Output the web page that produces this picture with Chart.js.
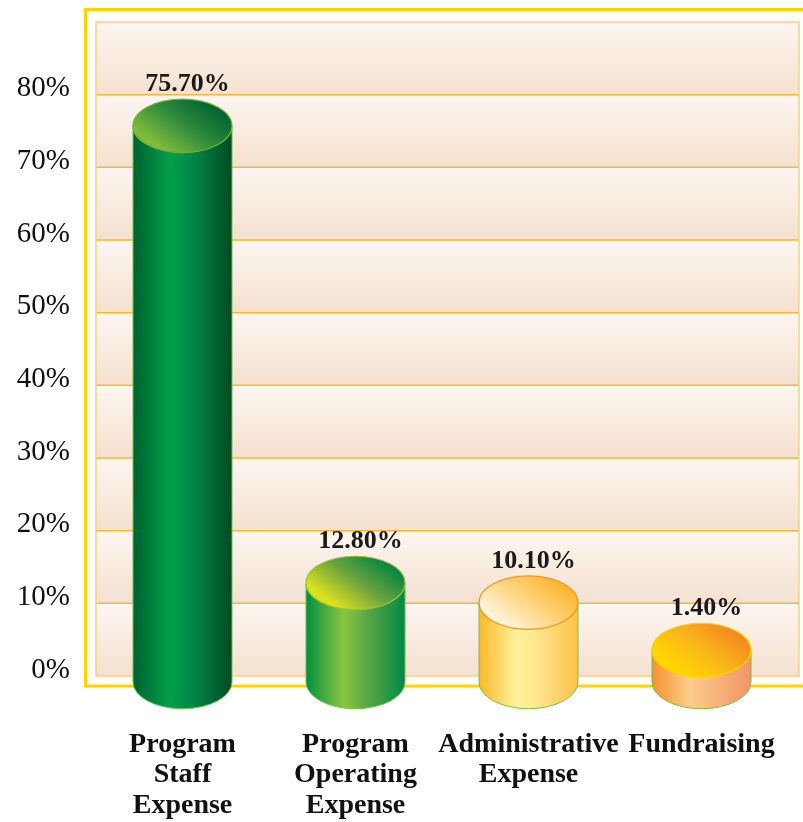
<!DOCTYPE html>
<html>
<head>
<meta charset="utf-8">
<script src="https://cdn.jsdelivr.net/npm/chart.js@4"></script>
<style>
  html, body { margin: 0; padding: 0; background: #fff; }
  canvas { display: block; }
</style>
</head>
<body>
<canvas id="chart" width="803" height="822"></canvas>
<script>
// data
const categories = [
    ['Program', 'Staff', 'Expense'],
    ['Program', 'Operating', 'Expense'],
    ['Administrative', 'Expense'],
    ['Fundraising']
];
const shares = [75.7, 12.8, 10.1, 1.4];
const yTicks = [0, 10, 20, 30, 40, 50, 60, 70, 80];

// cylinder colours: body stops left->right, top stops, outline of top
const bodyStops = [
    ['#00612f', '#00a04c', '#008546', '#004a22'],
    ['#00903f', '#8cc63f', '#5aa645', '#008a45'],
    ['#fdb827', '#fff39c', '#fee38a', '#fcc24a'],
    ['#f6922c', '#fdcd8a', '#f8b77c', '#f29466']
];
const topStops = [
    ['#80bb3c', '#2f8a3c', '#006231'],
    ['#dce11f', '#6aa33c', '#00853f'],
    ['#fff3d6', '#fed37a', '#fdb52a'],
    ['#ffd600', '#f9b41a', '#f4861f']
];
const topEdge = ['#6cb33f', '#8dc63f', '#f7941d', '#ffd200'];

const SERIF = '"Liberation Serif", "Times New Roman", serif';

const backdrop = {
    id: 'backdrop',
    beforeDraw(chart) {
        const { ctx, chartArea: a, scales: { y } } = chart;
        const right = a.right + 11;
        ctx.save();
        // outer yellow frame
        ctx.strokeStyle = '#ffd400';
        ctx.lineWidth = 3;
        ctx.beginPath();
        ctx.moveTo(chart.width + 5, 9.5);
        ctx.lineTo(85.5, 9.5);
        ctx.lineTo(85.5, a.bottom + 10);
        ctx.lineTo(chart.width + 5, a.bottom + 10);
        ctx.stroke();
        // striped beige panel, one gradient per 10% band
        for (let v = 0; v < 90; v += 10) {
            const top = y.getPixelForValue(v + 10);
            const bot = y.getPixelForValue(v);
            const g = ctx.createLinearGradient(0, top, 0, bot);
            g.addColorStop(0, '#fcf6f0');
            g.addColorStop(1, '#f4e1cf');
            ctx.fillStyle = g;
            ctx.fillRect(a.left, top, right - a.left, bot - top);
        }
        // gridlines reach the panel edge
        ctx.strokeStyle = '#f6b733';
        ctx.lineWidth = 1.5;
        yTicks.slice(1).forEach(v => {
            const py = y.getPixelForValue(v);
            ctx.beginPath();
            ctx.moveTo(a.left, py);
            ctx.lineTo(right, py);
            ctx.stroke();
        });
        ctx.strokeStyle = '#f9d27c';
        ctx.strokeRect(a.left, a.top, right - a.left, a.bottom - a.top);
        ctx.restore();
    }
};

const cylinders = {
    id: 'cylinders',
    afterDatasetsDraw(chart) {
        const { ctx } = chart;
        const meta = chart.getDatasetMeta(0);
        ctx.save();
        meta.data.forEach((bar, i) => {
            const x = bar.x, rx = bar.width / 2, ry = rx * 0.54;
            const yt = bar.y, yb = bar.base + 6;

            // body
            const g = ctx.createLinearGradient(x - rx, 0, x + rx, 0);
            const s = bodyStops[i];
            g.addColorStop(0, s[0]);
            g.addColorStop(0.38, s[1]);
            g.addColorStop(0.62, s[2]);
            g.addColorStop(1, s[3]);
            ctx.beginPath();
            ctx.moveTo(x - rx, yt);
            ctx.lineTo(x - rx, yb);
            ctx.ellipse(x, yb, rx, ry, 0, Math.PI, 0, true);
            ctx.lineTo(x + rx, yt);
            ctx.closePath();
            ctx.fillStyle = g;
            ctx.fill();
            ctx.strokeStyle = '#72bf50';
            ctx.lineWidth = 1;
            ctx.stroke();

            // top ellipse
            const t = topStops[i];
            const tg = ctx.createLinearGradient(x - rx * 0.3, yt + ry, x + rx * 0.5, yt - ry);
            tg.addColorStop(0, t[0]);
            tg.addColorStop(0.5, t[1]);
            tg.addColorStop(1, t[2]);
            ctx.beginPath();
            ctx.ellipse(x, yt, rx, ry, 0, 0, Math.PI * 2);
            ctx.fillStyle = tg;
            ctx.fill();
            ctx.strokeStyle = topEdge[i];
            ctx.lineWidth = 1.2;
            ctx.stroke();

            // value label
            ctx.fillStyle = '#1a1a1a';
            ctx.font = 'bold 26px ' + SERIF;
            ctx.textAlign = 'center';
            ctx.textBaseline = 'middle';
            ctx.fillText(shares[i].toFixed(2) + '%', x + 5, yt - ry - 15);
        });
        ctx.restore();
    }
};

new Chart(document.getElementById('chart'), {
    type: 'bar',
    data: {
        labels: categories,
        datasets: [{
            data: shares,
            backgroundColor: 'rgba(0,0,0,0)',
            borderWidth: 0,
            barThickness: 99,
            minBarLength: 26
        }]
    },
    options: {
        responsive: false,
        animation: false,
        layout: { padding: { top: 22, right: 15, left: 0, bottom: 0 } },
        plugins: { legend: { display: false }, tooltip: { enabled: false } },
        scales: {
            x: {
                grid: { display: false, drawTicks: false },
                border: { display: false },
                afterFit: s => {
                    s.height = 146;
                    s.paddingLeft = 0;
                    s.paddingRight = 0;
                },
                ticks: {
                    autoSkip: false,
                    maxRotation: 0,
                    padding: 53,
                    color: '#111',
                    font: { family: SERIF, size: 28, weight: 'bold', lineHeight: 1.1 }
                }
            },
            y: {
                min: 0,
                max: 90,
                afterFit: s => {
                    s.width = 96;
                    s.paddingTop = 0;
                    s.paddingBottom = 0;
                },
                afterBuildTicks: s => { s.ticks = yTicks.map(v => ({ value: v })); },
                grid: { display: false, drawTicks: false },
                border: { display: false },
                ticks: {
                    padding: 26,
                    labelOffset: -6,
                    color: '#111',
                    font: { family: SERIF, size: 29 },
                    callback: v => v + '%'
                }
            }
        }
    },
    plugins: [backdrop, cylinders]
});
</script>
</body>
</html>
